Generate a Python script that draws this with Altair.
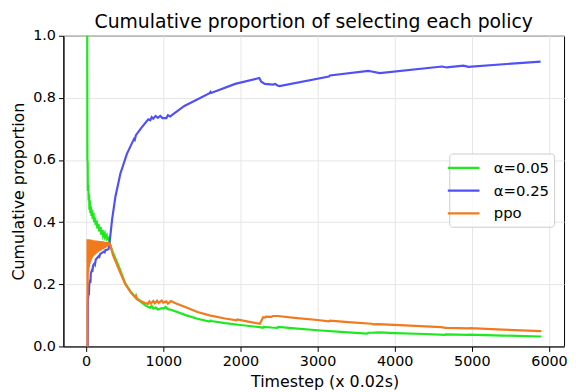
import altair as alt
import pandas as pd

# ---- data ----
g_x = [0, 14, 16, 20, 22, 28, 32, 38, 42, 48, 54, 62, 68, 78, 84, 96, 102, 116, 122, 138, 144, 162, 168, 188,
       194, 214, 220, 240, 246, 266, 272, 292, 303, 350, 421, 507, 580, 635, 650, 700, 762, 800, 830, 850, 870,
       900, 930, 980, 1000, 1030, 1060, 1100, 1300, 1443, 1600, 1613, 1620, 1800, 2000, 2250, 2290, 2300, 2400,
       2480, 2490, 2700, 3000, 3300, 3640, 3660, 3700, 3800, 4000, 4400, 4650, 4660, 4950, 4960, 5400, 5900]
g_y = [1.0, 1.0, 0.60, 0.59, 0.50, 0.52, 0.47, 0.49, 0.44, 0.47, 0.43, 0.45, 0.42, 0.44, 0.41, 0.43, 0.40, 0.415,
       0.39, 0.405, 0.38, 0.395, 0.37, 0.385, 0.36, 0.375, 0.355, 0.365, 0.35, 0.358, 0.345, 0.35, 0.334, 0.30,
       0.258, 0.203, 0.175, 0.16, 0.157, 0.145, 0.133, 0.128, 0.125, 0.13, 0.122, 0.125, 0.119, 0.123, 0.122,
       0.127, 0.12, 0.118, 0.10, 0.089, 0.08, 0.083, 0.082, 0.075, 0.069, 0.062, 0.06, 0.063, 0.061, 0.06, 0.063,
       0.058, 0.052, 0.047, 0.041, 0.044, 0.044, 0.045, 0.043, 0.04, 0.037, 0.039, 0.037, 0.038, 0.035, 0.032]

b_x = [0, 20, 22, 30, 36, 40, 50, 56, 60, 75, 80, 90, 110, 115, 125, 160, 170, 180, 230, 240, 250, 290, 303,
       336, 379, 443, 528, 620, 630, 645, 720, 805, 830, 850, 870, 900, 930, 960, 990, 1040, 1060, 1090, 1124,
       1273, 1401, 1600, 1613, 1620, 1932, 2244, 2270, 2316, 2423, 2450, 2480, 2507, 3146, 3160, 3657, 3700,
       3806, 4614, 4674, 4891, 4955, 5891]
b_y = [0.0, 0.0, 0.15, 0.17, 0.165, 0.20, 0.21, 0.205, 0.235, 0.245, 0.24, 0.26, 0.268, 0.265, 0.28, 0.29, 0.288,
       0.297, 0.305, 0.303, 0.31, 0.313, 0.333, 0.408, 0.482, 0.556, 0.62, 0.668, 0.665, 0.68, 0.705, 0.731,
       0.728, 0.738, 0.733, 0.742, 0.736, 0.742, 0.735, 0.735, 0.744, 0.74, 0.747, 0.774, 0.79, 0.815, 0.819,
       0.816, 0.845, 0.864, 0.852, 0.845, 0.843, 0.845, 0.84, 0.838, 0.869, 0.872, 0.887, 0.885, 0.88, 0.901,
       0.898, 0.904, 0.90, 0.917]

o_x = [0, 16, 18, 20, 24, 28, 32, 36, 40, 44, 48, 52, 56, 60, 64, 68, 72, 76, 80, 84, 88, 92, 96, 100, 105, 110,
       115, 120, 125, 130, 135, 140, 145, 150, 155, 160, 165, 170, 175, 180, 185, 190, 195, 200, 205, 210, 215,
       220, 225, 230, 235, 240, 245, 250, 255, 260, 265, 270, 275, 280, 285, 290, 294, 298, 303,
       350, 421, 507, 580, 635, 645, 655, 700, 762, 800, 820, 840, 870, 890, 920, 940, 980, 1000, 1040,
       1060, 1100, 1150, 1300, 1443, 1600, 1800, 1950, 1960, 2100, 2252, 2294, 2320, 2330, 2400, 2420, 2486, 2700,
       3000, 3145, 3160, 3400, 3700, 3720, 3780, 4200, 4600, 4660, 4955, 4980, 5400, 5900]
o_y = [0.0, 0.0, 0.345, 0.20, 0.345, 0.24, 0.345, 0.255, 0.344, 0.265, 0.344, 0.272, 0.343, 0.278, 0.343, 0.282,
       0.343, 0.286, 0.342, 0.289, 0.342, 0.292, 0.342, 0.294, 0.341, 0.296, 0.341, 0.298, 0.341, 0.300, 0.340,
       0.302, 0.340, 0.304, 0.340, 0.305, 0.339, 0.307, 0.339, 0.308, 0.339, 0.310, 0.338, 0.311, 0.338, 0.313,
       0.338, 0.314, 0.337, 0.316, 0.337, 0.317, 0.337, 0.319, 0.336, 0.320, 0.336, 0.322, 0.336, 0.324, 0.335,
       0.326, 0.335, 0.328, 0.334,
       0.292, 0.25, 0.2, 0.173, 0.158, 0.163, 0.152, 0.147, 0.14, 0.137, 0.145, 0.138, 0.146, 0.139, 0.147, 0.14,
       0.148, 0.141, 0.145, 0.138, 0.146, 0.14, 0.125, 0.111, 0.10, 0.09, 0.084, 0.087, 0.08, 0.073, 0.094, 0.093,
       0.096, 0.095, 0.098, 0.098, 0.092, 0.085, 0.081, 0.083, 0.078, 0.073, 0.071, 0.072, 0.067, 0.062, 0.06,
       0.058, 0.059, 0.054, 0.049]

series_names = ["α=0.05", "α=0.25", "ppo"]
series_colors = ["#1ee81e", "#5050f8", "#f27a1c"]
x_ticks = [0, 1000, 2000, 3000, 4000, 5000, 6000]
y_ticks = [0.0, 0.2, 0.4, 0.6, 0.8, 1.0]

frames = []
for name, xs, ys in zip(series_names, [g_x, b_x, o_x], [g_y, b_y, o_y]):
    frames.append(pd.DataFrame({"t": xs, "p": ys, "policy": name, "idx": range(len(xs))}))
df = pd.concat(frames, ignore_index=True)

FONT = "DejaVu Sans"

color = alt.Color(
    "policy:N",
    scale=alt.Scale(domain=series_names, range=series_colors),
    legend=alt.Legend(title=None, orient="none", legendX=390, legendY=119),
)
x_enc = alt.X(
    "t:Q",
    scale=alt.Scale(domain=[-295, 6195], nice=False, zero=False),
    axis=alt.Axis(values=x_ticks, format="d", title="Timestep (x 0.02s)", titleX=264, titleY=28),
)
y_enc = alt.Y(
    "p:Q",
    scale=alt.Scale(domain=[0, 1], nice=False),
    axis=alt.Axis(values=y_ticks, format=".1f", title="Cumulative proportion", titlePadding=6),
)

layers = []
for name in series_names:
    layers.append(
        alt.Chart(df)
        .transform_filter(alt.datum.policy == name)
        .mark_line(strokeWidth=2.2, clip=True)
        .encode(x=x_enc, y=y_enc, color=color, order="idx:Q")
    )

chart = (
    alt.layer(*layers)
    .properties(
        width=506,
        height=314,
        title=alt.TitleParams(
            "Cumulative proportion of selecting each policy",
            fontSize=19, font=FONT, fontWeight="normal", color="black", offset=-4,
        ),
        autosize=alt.AutoSizeParams(type="none"),
        padding={"left": 56, "top": 26, "right": 4, "bottom": 44},
    )
    .configure_view(stroke="black", strokeWidth=1)
    .configure_axis(
        labelFont=FONT, titleFont=FONT, labelFontSize=14.5, titleFontSize=16,
        labelColor="black", titleColor="black", titleFontWeight="normal",
        domainColor="black", tickColor="black", tickSize=5, labelPadding=3,
        gridColor="#e6e6e6", gridWidth=1,
    )
    .configure_legend(
        labelFont=FONT, labelFontSize=15, labelColor="black",
        symbolType="M-2,0L2,0", symbolStrokeWidth=2.2, symbolSize=256,
        strokeColor="#cccccc", fillColor="rgba(255,255,255,0.8)", cornerRadius=3,
        padding=5, rowPadding=5, labelOffset=21,
    )
)

chart.save("out.html", embed_options={"renderer": "svg", "actions": False})
